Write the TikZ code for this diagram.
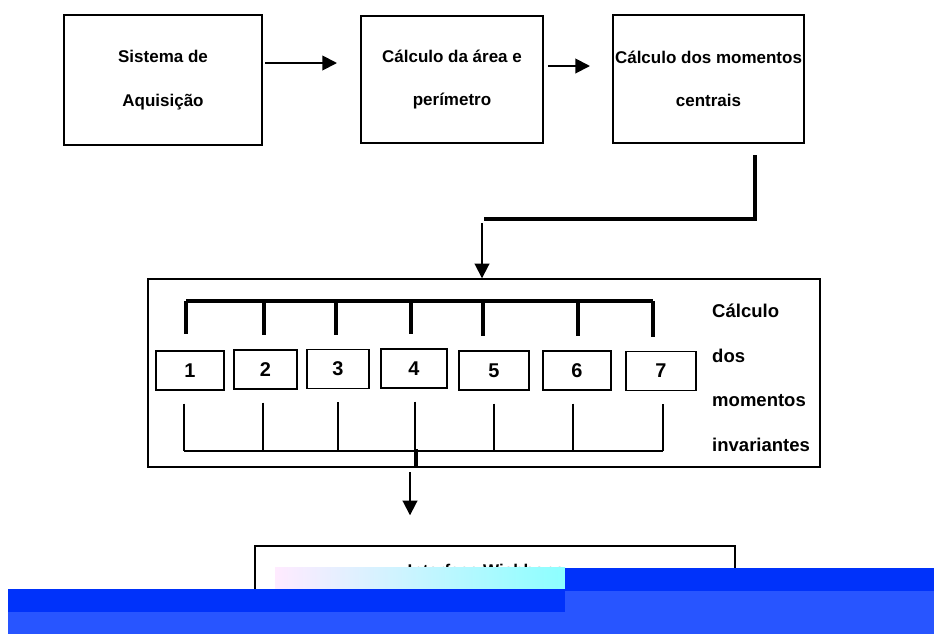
\documentclass[tikz,border=0pt]{standalone}
\usepackage{fontspec}
\setmainfont{Liberation Sans}
\usetikzlibrary{arrows.meta}

\definecolor{faixaescura}{RGB}{0,50,250}
\definecolor{faixaclara}{RGB}{40,85,255}

\tikzset{
  caixa/.style={shape=rectangle,draw=black,align=center,line width=1.2pt,inner sep=0pt,font=\fontsize{14.5}{37}\selectfont\bfseries},
  momento/.style={shape=rectangle,draw=black,align=center,line width=1.2pt,inner sep=0pt,minimum height=1.17cm,font=\fontsize{17}{20}\selectfont\bfseries},
  seta/.style={-{Triangle[length=12.5pt,width=12.5pt]},line width=1.6pt},
  grossa/.style={line width=3.2pt},
  barra/.style={line width=2.6pt},
  fina/.style={line width=1.1pt},
}

\begin{document}
\begin{tikzpicture}[x=0.03cm,y=-0.03cm]
\useasboundingbox (0,0) rectangle (934,634);

\node[caixa,minimum width=5.94cm,minimum height=3.9cm] (aquis) at (163,80) {Sistema de\\Aquisição};
\node[caixa,minimum width=5.46cm,minimum height=3.81cm] (area) at (452,79.5) {Cálculo da área e\\perímetro};
\node[caixa,minimum width=5.73cm,minimum height=3.84cm] (centrais) at (708.5,79) {Cálculo dos momentos\\centrais};

\node[shape=rectangle,draw=black,line width=1.2pt,inner sep=0pt,minimum width=20.16cm,minimum height=5.64cm] (invar) at (484,373) {};
\node[momento,minimum width=2.04cm] (b1) at (190,370.5) {1};
\node[momento,minimum width=1.89cm] (b2) at (265.5,369.5) {2};
\node[momento,minimum width=1.86cm] (b3) at (338,369) {3};
\node[momento,minimum width=1.98cm] (b4) at (414,368.5) {4};
\node[momento,minimum width=2.10cm] (b5) at (494,370.5) {5};
\node[momento,minimum width=2.04cm] (b6) at (577,370.5) {6};
\node[momento,minimum width=2.10cm] (b7) at (661,371) {7};
\node[align=left,anchor=west,inner sep=0pt,font=\fontsize{15.8}{38}\selectfont\bfseries] (rotulo) at (712,378) {Cálculo\\dos\\momentos\\invariantes};

\node[shape=rectangle,draw=black,line width=1.2pt,inner sep=0pt,minimum width=14.4cm,minimum height=2.4cm] (wb) at (495,586) {};
\node[inner sep=0pt,font=\fontsize{14.5}{17}\selectfont\bfseries] (wbtexto) at (486,570) {Interface Wishbone};

% setas entre as caixas
\coordinate (s1) at (265,63);
\coordinate (e1) at (337,63);
\coordinate (s2) at (548,66);
\coordinate (e2) at (590,66);
\draw[seta] (s1) -- (e1);
\draw[seta] (s2) -- (e2);

% ligacao dos momentos centrais
\coordinate (k1) at (755,155);
\coordinate (k2) at (755,219);
\coordinate (k3) at (484,219);
\coordinate (k4) at (482,223);
\draw[grossa] (k1) -- (k2) -- (k3);
\draw[seta] (k4) -- (k4 |- invar.north);

% barramento de cima
\coordinate (t1) at (186,301);
\coordinate (t2) at (264,301);
\coordinate (t3) at (336,301);
\coordinate (t4) at (411,301);
\coordinate (t5) at (483,301);
\coordinate (t6) at (578,301);
\coordinate (t7) at (653,301);
\draw[barra] (t1) -- (t7);
\draw[barra,line width=3.4pt,shorten >=0.48cm] (t1) -- (t1 |- b1.north);
\draw[barra,shorten >=0.42cm] (t2) -- (t2 |- b2.north);
\draw[barra,shorten >=0.42cm] (t3) -- (t3 |- b3.north);
\draw[barra,shorten >=0.42cm] (t4) -- (t4 |- b4.north);
\draw[barra,shorten >=0.42cm] (t5) -- (t5 |- b5.north);
\draw[barra,shorten >=0.42cm] (t6) -- (t6 |- b6.north);
\draw[barra,shorten >=0.42cm] (t7) -- (t7 |- b7.north);

% barramento de baixo
\coordinate (u1) at (184,451);
\coordinate (u2) at (263,451);
\coordinate (u3) at (338,451);
\coordinate (u4) at (415,451);
\coordinate (u5) at (494,451);
\coordinate (u6) at (573,451);
\coordinate (u7) at (663,451);
\draw[fina] (u1) -- (u7);
\draw[fina,shorten <=0.39cm] (u1 |- b1.south) -- (u1);
\draw[fina,shorten <=0.39cm] (u2 |- b2.south) -- (u2);
\draw[fina,shorten <=0.39cm] (u3 |- b3.south) -- (u3);
\draw[fina,shorten <=0.39cm] (u4 |- b4.south) -- (u4);
\draw[fina,shorten <=0.39cm] (u5 |- b5.south) -- (u5);
\draw[fina,shorten <=0.39cm] (u6 |- b6.south) -- (u6);
\draw[fina,shorten <=0.39cm] (u7 |- b7.south) -- (u7);
\coordinate (m) at (416,449);
\draw[line width=3.4pt] (m) -- (m |- invar.south);

% seta para a interface
\coordinate (d1) at (410,472);
\draw[seta,shorten >=0.9cm] (d1) -- (d1 |- wb.north);

% faixas azuis
\fill[left color=magenta!8,right color=cyan!45] (275,567) rectangle (565,589);
\fill[faixaescura] (565,568) rectangle (934,591);
\fill[faixaescura] (8,589) rectangle (565,612);
\fill[faixaclara] (565,591) rectangle (934,634);
\fill[faixaclara] (8,612) rectangle (565,634);
\end{tikzpicture}
\end{document}
